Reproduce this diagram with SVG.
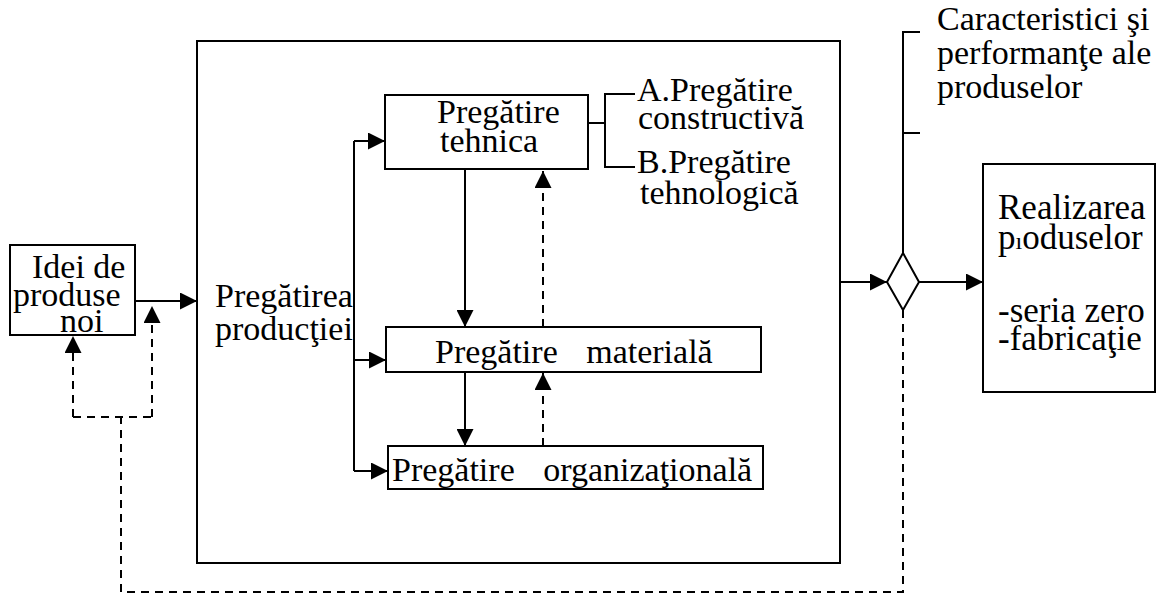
<svg xmlns="http://www.w3.org/2000/svg" width="1166" height="594" viewBox="0 0 1166 594">
  <style>
    .box { fill: #fff; stroke: #000; stroke-width: 2; }
    .ln { fill: none; stroke: #000; stroke-width: 2; }
    .dash { fill: none; stroke: #000; stroke-width: 2; stroke-dasharray: 8 6; }
  </style>
  <defs>
    <marker id="arrow" markerUnits="userSpaceOnUse" markerWidth="17" markerHeight="17" refX="17" refY="8.5" orient="auto">
      <path d="M0,0 L17,8.5 L0,17 z" fill="#000"/>
    </marker>
  </defs>
  <rect width="1166" height="594" fill="#fff"/>

  <g font-family="'Liberation Serif', 'Times New Roman', Times, serif" font-size="34" fill="#000">
  <!-- outer frame: production preparation -->
  <g id="pregatirea-productiei">
    <rect class="box" x="197" y="41" width="643" height="522"/>
    <text x="215" y="307">Pregătirea</text>
    <text x="215" y="340">producţiei</text>
  </g>

  <g id="idei">
    <rect class="box" x="10" y="245" width="125" height="90"/>
    <text x="32" y="278">Idei de</text>
    <text x="13" y="306">produse</text>
    <text x="60" y="332">noi</text>
  </g>

  <g id="tehnica">
    <rect class="box" x="385" y="95" width="203" height="74"/>
    <text x="437" y="123">Pregătire</text>
    <text x="440" y="152">tehnica</text>
  </g>

  <g id="tehnica-detalii">
    <text x="637" y="101">A.Pregătire</text>
    <text x="638" y="129">constructivă</text>
    <text x="637" y="173">B.Pregătire</text>
    <text x="640" y="204">tehnologică</text>
  </g>

  <g id="materiala">
    <rect class="box" x="386" y="327" width="375" height="45"/>
    <text x="435" y="363" word-spacing="20">Pregătire materială</text>
  </g>

  <g id="organizationala">
    <rect class="box" x="388" y="446" width="375" height="43"/>
    <text x="392" y="481" word-spacing="20">Pregătire organizaţională</text>
  </g>

  <g id="decizie">
    <path class="box" d="M903,253 L919,282 L903,310 L887,282 z"/>
  </g>

  <g id="caracteristici">
    <text x="937" y="30">Caracteristici şi</text>
    <text x="937" y="64">performanţe ale</text>
    <text x="937" y="98">produselor</text>
  </g>

  <g id="realizarea" font-size="35">
    <rect class="box" x="983" y="164" width="172" height="228"/>
    <text x="998" y="219">Realizarea</text>
    <text x="998" y="249">p<tspan font-size="24">ı</tspan>oduselor</text>
    <text x="998" y="322">-seria zero</text>
    <text x="998" y="350">-fabricaţie</text>
  </g>
  </g>

  <g id="connectors">
    <!-- solid flow -->
    <path class="ln" d="M135,301 H197" marker-end="url(#arrow)"/>
    <path class="ln" d="M354,141 V471"/>
    <path class="ln" d="M354,141 H385" marker-end="url(#arrow)"/>
    <path class="ln" d="M354,360 H386" marker-end="url(#arrow)"/>
    <path class="ln" d="M354,471 H388" marker-end="url(#arrow)"/>
    <path class="ln" d="M465,169 V327" marker-end="url(#arrow)"/>
    <path class="ln" d="M465,372 V446" marker-end="url(#arrow)"/>
    <path class="ln" d="M840,282 H887" marker-end="url(#arrow)"/>
    <path class="ln" d="M919,282 H983" marker-end="url(#arrow)"/>
    <!-- bracket of technical preparation -->
    <path class="ln" d="M588,123 H605 M635,94 H605 V167 H635"/>
    <!-- bracket of product characteristics -->
    <path class="ln" d="M903,253 V32 H920 M903,133 H920"/>
    <!-- feedback (dashed) -->
    <path class="dash" d="M543,327 V171" marker-end="url(#arrow)"/>
    <path class="dash" d="M543,446 V373" marker-end="url(#arrow)"/>
    <path class="dash" d="M903,310 V592 H121 V417"/>
    <path class="dash" d="M73,417 H152"/>
    <path class="dash" d="M73,417 V336" marker-end="url(#arrow)"/>
    <path class="dash" d="M152,417 V306" marker-end="url(#arrow)"/>
  </g>
</svg>
